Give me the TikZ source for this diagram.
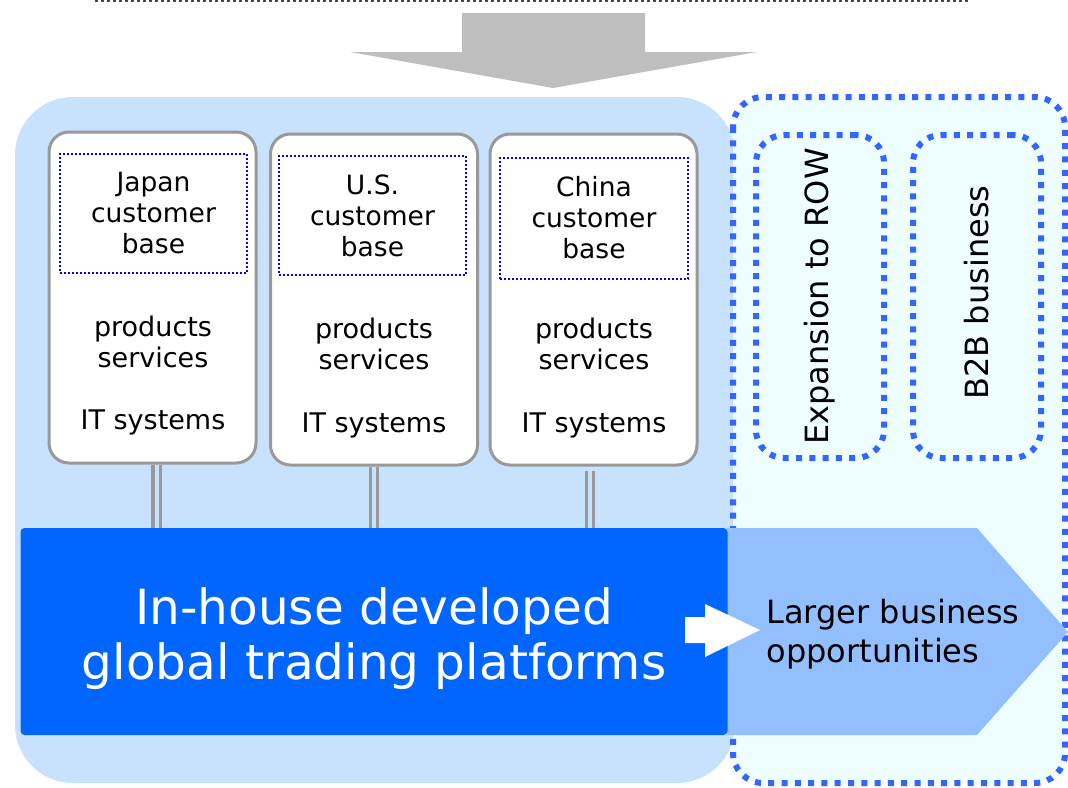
\documentclass[tikz,border=0pt]{standalone}
\usepackage{fontspec}
\setmainfont{DejaVu Sans}
\definecolor{diagcolor0000}{RGB}{153,153,153}
\definecolor{diagcolor0001}{RGB}{200,225,252}
\definecolor{diagcolor0002}{RGB}{238,254,255}
\definecolor{diagcolor0003}{RGB}{51,102,255}
\definecolor{diagcolor0004}{RGB}{0,0,245}
\definecolor{diagcolor0005}{RGB}{0,102,255}
\definecolor{diagcolor0006}{RGB}{148,191,255}
\definecolor{diagcolor0007}{RGB}{190,190,190}
\definecolor{diagcolor0008}{RGB}{70,70,70}

\begin{document}
\begin{tikzpicture}[yscale=-1
,pstyle0/.style={color=diagcolor0008,line width=1.2pt,dash pattern=on 3pt off 3pt}
,pstyle1/.style={draw=diagcolor0003,line width=6pt,dash pattern=on 6pt off 7.3pt,line cap=butt}
,pstyle2/.style={rectangle,rounded corners=20pt,draw=diagcolor0000,fill=white,line width=3pt,minimum width=207pt,minimum height=331pt,inner sep=0pt}
,pstyle3/.style={rectangle,draw=diagcolor0004,line width=2pt,dash pattern=on 2pt off 2pt,minimum width=187pt,minimum height=119pt,inner sep=0pt,align=center,font=\fontsize{26.5}{31}\selectfont}
,pstyle4/.style={align=center,font=\fontsize{27}{31}\selectfont}
,pstyle5/.style={draw=diagcolor0000,line width=3.2pt,double=diagcolor0001,double distance=4pt}
,pstyle6/.style={rectangle,rounded corners=28pt,pstyle1,fill=none,minimum width=128pt,minimum height=323pt,inner sep=0pt}
,pstyle7/.style={rotate=90,font=\fontsize{32}{38}\selectfont}
]
\useasboundingbox (0pt,0pt) rectangle (1068pt,787pt);
% top line and arrow
\draw[pstyle0] (95pt,1pt) -- (970pt,1pt);
\fill[diagcolor0007] (462pt,13pt) -- (645pt,13pt) -- (645pt,52pt) -- (757pt,52pt) -- (553pt,88pt) -- (350pt,52pt) -- (462pt,52pt) -- cycle;
% areas
\fill[diagcolor0001] (15pt,97pt) [rounded corners=58pt] rectangle (735pt,783pt);
\fill[diagcolor0002] (733pt,97pt) [rounded corners=30pt] rectangle (1065pt,783pt);
\draw[pstyle1] (733pt,97pt) [rounded corners=30pt] rectangle (1065pt,783pt);
% customer boxes
\node[pstyle2] (jpbox) at (152.5pt,297.5pt) {};
\node[pstyle2] (usbox) at (374pt,299.5pt) {};
\node[pstyle2] (cnbox) at (593.5pt,299.5pt) {};
\node[pstyle3] (jpbase) at (153.5pt,213pt) {Japan\\customer\\base};
\node[pstyle3] (usbase) at (372.5pt,215.5pt) {U.S.\\customer\\base};
\node[pstyle3,minimum width=188pt,minimum height=121pt] (cnbase) at (594pt,218pt) {China\\customer\\base};
\node[pstyle4] (jpprod) at (153pt,342pt) {products\\services};
\node[pstyle4] (usprod) at (374pt,344pt) {products\\services};
\node[pstyle4] (cnprod) at (594pt,344pt) {products\\services};
\node[pstyle4] (jpit) at (153pt,422pt) {IT systems};
\node[pstyle4] (usit) at (374pt,425pt) {IT systems};
\node[pstyle4] (cnit) at (594pt,425pt) {IT systems};
% right side
\node[pstyle6] (rowbox) at (820pt,296.5pt) {};
\node[pstyle6] (b2bbox) at (977pt,296.5pt) {};
\node[pstyle7] (row) at (rowbox.center) {Expansion to ROW};
\node[pstyle7] (b2b) at ([yshift=-4pt]b2bbox.center) {B2B business};
% platform
\fill[diagcolor0006] (727pt,528pt) -- (977pt,528pt) -- (1068pt,632pt) -- (977pt,735pt) -- (727pt,735pt) -- cycle;
\node[rectangle,rounded corners=4pt,fill=diagcolor0005,minimum width=707pt,minimum height=207pt,inner sep=0pt,text=white,align=center,font=\fontsize{48.5}{55}\selectfont] (plat) at (374pt,631.5pt) {};
\node[text=white,align=center,font=\fontsize{48.5}{55}\selectfont] (plattext) at (374pt,639pt) {In-house developed\\global trading platforms};
\node[anchor=west,align=left,font=\fontsize{32}{39}\selectfont] (larger) at (763pt,634pt) {Larger business\\opportunities};
\fill[white] (685pt,617pt) -- (705pt,617pt) -- (705pt,604pt) -- (760pt,630pt) -- (705pt,657pt) -- (705pt,643pt) -- (685pt,643pt) -- cycle;
% links
\draw[pstyle5] ([xshift=4pt]jpbox.south) -- ([xshift=4pt]jpbox.south |- plat.north);
\draw[pstyle5] (usbox.south) -- (usbox.south |- plat.north);
\draw[pstyle5] ([xshift=-3.5pt,yshift=4pt]cnbox.south) -- ([xshift=-3.5pt]cnbox.south |- plat.north);
\end{tikzpicture}
\end{document}
